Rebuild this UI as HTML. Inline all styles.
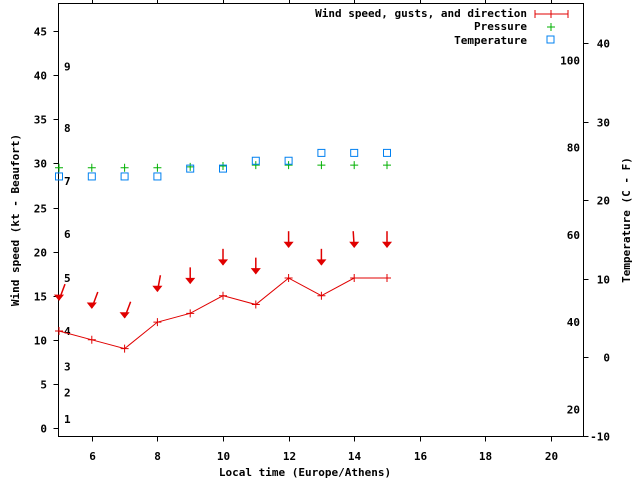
<!DOCTYPE html>
<html><head><meta charset="utf-8"><style>
body{margin:0;background:#fff}
svg text{font-family:"DejaVu Sans Mono","Liberation Mono",monospace;font-weight:bold;font-size:11px;fill:#000}
</style></head><body>
<svg id="chart" width="640" height="480" xmlns="http://www.w3.org/2000/svg">
<g id="grid"></g>
<g id="marks"></g>
<g id="legend">
<text x="527" y="17" text-anchor="end">Wind speed, gusts, and direction</text>
<line x1="535" y1="14" x2="568" y2="14" stroke="#e00000"/><line x1="535" y1="10" x2="535" y2="18" stroke="#e00000"/><line x1="568" y1="10" x2="568" y2="18" stroke="#e00000"/><line x1="551" y1="10" x2="551" y2="18" stroke="#e00000"/>
<text x="527" y="30" text-anchor="end">Pressure</text>
<path d="M547 27h8M551 23v8" stroke="#00b000"/>
<text x="527" y="44" text-anchor="end">Temperature</text>
<rect x="547" y="36" width="7" height="7" fill="none" stroke="#0080f0"/>
</g>
<text x="305" y="476" text-anchor="middle">Local time (Europe/Athens)</text>
<text transform="translate(19,220) rotate(-90)" text-anchor="middle">Wind speed (kt - Beaufort)</text>
<text transform="translate(630,220) rotate(-90)" text-anchor="middle">Temperature (C - F)</text>
</svg>
<script>
const hours=[5,6,7,8,9,10,11,12,13,14,15];
const wind=[11,10,9,12,13,15,14,17,15,17,17];
const gust=[14.5,13.6,12.5,15.5,16.4,18.5,17.5,20.5,18.5,20.5,20.5];
const dirDx=[6,6,6,3,0,0,0,0,0,-1,0];
const pressure=[29.5,29.5,29.5,29.5,29.6,29.7,29.8,29.8,29.8,29.8,29.8];
const tempC=[23,23,23,23,24,24,25,25,26,26,26];
const xTicks=[6,8,10,12,14,16,18,20];
const yTicks=[0,5,10,15,20,25,30,35,40,45];
const cTicks=[-10,0,10,20,30,40];
const fTicks=[20,40,60,80,100];
const bft=[1,2,3,4,5,6,7,8,9];
const bftKt=[1,4,7,11,17,22,28,34,41];
const L=58.5,R=583.5,T=3.5,B=436.5;
const X=h=>59+(h-5)*32.8;
const Y=v=>428-v*8.82;
const YC=c=>357-c*7.85;
const YF=f=>YC((f-32)*5/9);
const NS="http://www.w3.org/2000/svg";
const g=document.getElementById('grid'),m=document.getElementById('marks');
function el(p,t,a){const e=document.createElementNS(NS,t);for(const k in a)e.setAttribute(k,a[k]);p.appendChild(e);return e;}
function txt(p,x,y,s,anchor){const e=el(p,'text',{x:x,y:y,'text-anchor':anchor});e.textContent=s;return e;}
const frame=el(g,'rect',{x:L,y:T,width:R-L,height:B-T,fill:'none',stroke:'#000'});


xTicks.forEach(h=>{const x=Math.round(X(h))+.5;el(g,'line',{x1:x,y1:B,x2:x,y2:B+5,stroke:'#000'});el(g,'line',{x1:x,y1:T,x2:x,y2:T-5,stroke:'#000'});
const t=txt(g,x,460,h,'middle');

});
yTicks.forEach(v=>{const y=Math.round(Y(v))+.5;el(g,'line',{x1:L-5,y1:y,x2:L,y2:y,stroke:'#000'});
const t=txt(g,47,y+4,v,'end');

});
cTicks.forEach(c=>{const y=Math.round(YC(c))+.5;el(g,'line',{x1:R,y1:y,x2:R+5,y2:y,stroke:'#000'});
const t=txt(g,610,y+4,c,'end');

});
fTicks.forEach(f=>{const t=txt(g,580,YF(f)+4,f,'end');

});
bft.forEach((b,i)=>{const t=txt(g,64,Y(bftKt[i])+4,b,'start');

});
const wl=el(m,'polyline',{points:hours.map((h,i)=>X(h)+','+Y(wind[i])).join(' '),fill:'none',stroke:'#e00000'});


hours.forEach((h,i)=>{
const x=X(h),y=Y(wind[i]);
const p=el(m,'path',{d:`M${x-4} ${y}h8M${x} ${y-4}v8`,stroke:'#e00000'});


const gy=Y(gust[i]);
const a=el(m,'path',{d:`M${x+dirDx[i]} ${gy-16}L${x} ${gy}`,stroke:'#e00000','stroke-width':1.5});


const ah=el(m,'path',{d:`M${x-4} ${gy-5}L${x} ${gy}L${x+4} ${gy-5}Z`,stroke:'#e00000',fill:'#e00000'});


const py=Y(pressure[i]);
const pp=el(m,'path',{d:`M${x-4} ${py}h8M${x} ${py-4}v8`,stroke:'#00b000'});


const ty=YC(tempC[i]);
const r=el(m,'rect',{x:x-3.5,y:ty-3.5,width:7,height:7,fill:'none',stroke:'#0080f0'});


});
</script>
</body></html>
